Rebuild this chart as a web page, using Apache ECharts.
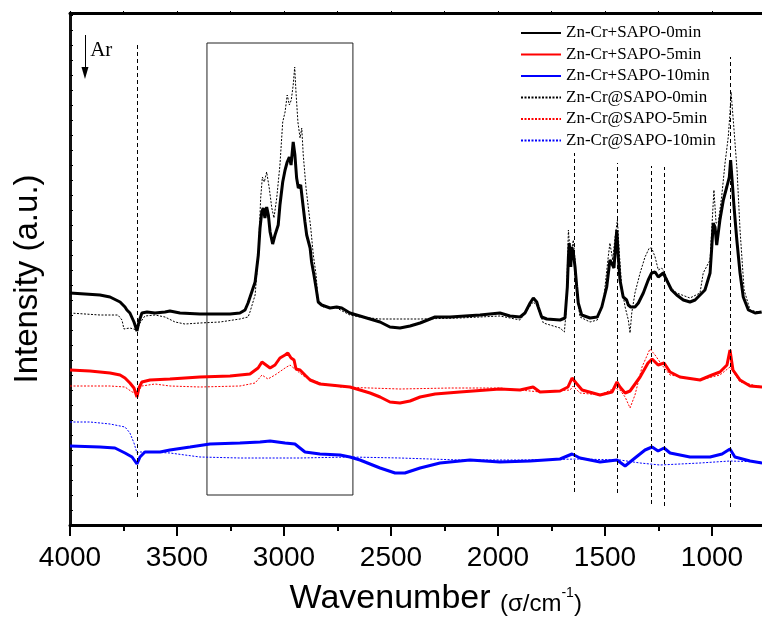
<!DOCTYPE html>
<html>
<head>
<meta charset="utf-8">
<script src="https://cdn.jsdelivr.net/npm/echarts@6/dist/echarts.min.js"></script>
<style>html,body{margin:0;padding:0;background:#fff}#c{width:762px;height:621px}</style>
</head>
<body>
<div id="c"></div>
<script>
// ---- data: [wavenumber (cm-1), intensity (a.u.)] ----
var xTicks = [4000, 3500, 3000, 2500, 2000, 1500, 1000];
var seriesNames = ['Zn-Cr+SAPO-0min','Zn-Cr+SAPO-5min','Zn-Cr+SAPO-10min','Zn-Cr@SAPO-0min','Zn-Cr@SAPO-5min','Zn-Cr@SAPO-10min'];

var blackSolid = [[4000,232],[3860,230],[3813,228],[3766,223],[3743,218],[3734,215],[3720,212],[3701,203],[3687,194],[3678,203],[3664,212],[3640,213],[3603,212],[3556,213],[3533,214],[3486,212],[3393,211],[3252,211],[3206,212],[3182,215],[3168,222],[3159,223],[3135,243],[3120,270],[3112,297],[3104,313],[3097,317],[3089,307],[3081,318],[3073,310],[3065,293],[3053,281],[3042,290],[3027,300],[3019,320],[3006,343],[2995,355],[2985,363],[2975,368],[2967,360],[2957,383],[2949,370],[2941,347],[2933,337],[2922,340],[2913,323],[2902,303],[2894,290],[2878,277],[2871,263],[2860,250],[2850,237],[2840,223],[2824,220],[2785,217],[2754,218],[2730,217],[2692,212],[2645,209],[2551,203],[2505,198],[2458,197],[2411,199],[2364,202],[2294,208],[2224,208],[2084,210],[1991,212],[1944,209],[1897,208],[1874,212],[1850,222],[1835,227],[1819,223],[1812,218],[1796,208],[1772,206],[1710,205],[1687,207],[1676,238],[1671,268],[1667,282],[1660,258],[1656,278],[1648,272],[1640,258],[1632,238],[1625,222],[1609,210],[1570,207],[1536,208],[1515,218],[1492,238],[1477,265],[1469,262],[1458,257],[1452,275],[1445,295],[1438,268],[1430,245],[1415,228],[1406,227],[1399,225],[1391,220],[1380,218],[1360,218],[1344,222],[1321,232],[1298,245],[1282,252],[1266,253],[1251,248],[1228,252],[1212,245],[1189,235],[1165,230],[1134,225],[1103,223],[1079,225],[1056,230],[1033,235],[1009,252],[1001,278],[994,302],[986,298],[978,280],[971,282],[963,305],[947,325],[931,338],[919,348],[913,365],[906,345],[897,318],[884,285],[869,252],[854,228],[830,215],[799,212],[768,213]];

var redSolid = [[4000,155],[3907,154],[3813,152],[3766,150],[3743,147],[3720,142],[3701,137],[3687,128],[3678,137],[3664,143],[3626,145],[3533,146],[3393,148],[3252,149],[3159,151],[3121,157],[3103,163],[3084,160],[3065,157],[3042,160],[3019,167],[2995,170],[2982,172],[2967,167],[2953,165],[2944,156],[2925,155],[2902,150],[2878,145],[2832,141],[2785,140],[2738,139],[2692,138],[2645,135],[2598,132],[2551,128],[2505,123],[2458,122],[2411,124],[2364,128],[2294,131],[2178,133],[1991,136],[1897,135],[1836,138],[1804,133],[1710,134],[1673,138],[1654,147],[1635,142],[1607,135],[1523,130],[1467,133],[1444,143],[1430,138],[1406,132],[1383,134],[1336,148],[1299,162],[1280,166],[1252,160],[1224,162],[1196,153],[1150,148],[1056,145],[1000,150],[963,153],[930,160],[916,175],[902,155],[869,145],[822,139],[766,138]];

var blueSolid = [[4000,79],[3860,78],[3790,77],[3743,72],[3710,68],[3687,61],[3673,68],[3650,73],[3579,73],[3533,75],[3439,78],[3346,81],[3206,82],[3112,83],[3065,84],[2995,82],[2949,81],[2902,73],[2832,71],[2738,70],[2692,68],[2645,65],[2551,57],[2481,52],[2435,52],[2364,57],[2271,62],[2131,65],[1991,63],[1850,64],[1710,66],[1654,71],[1617,67],[1523,63],[1444,65],[1406,59],[1360,67],[1313,75],[1280,78],[1252,74],[1224,77],[1196,72],[1103,68],[1009,68],[953,71],[916,76],[893,68],[822,64],[766,62]];

var blackDotted = [[4000,212],[3860,210],[3776,210],[3757,205],[3748,196],[3720,197],[3687,195],[3673,202],[3650,209],[3603,210],[3556,208],[3509,203],[3463,201],[3393,202],[3299,203],[3206,206],[3168,208],[3159,213],[3135,230],[3120,270],[3109,327],[3101,348],[3092,343],[3081,353],[3069,337],[3057,317],[3047,307],[3034,327],[3019,360],[3006,403],[2995,413],[2985,430],[2975,420],[2966,425],[2957,440],[2950,458],[2944,433],[2935,403],[2925,387],[2917,397],[2910,370],[2897,337],[2886,317],[2875,297],[2863,270],[2850,250],[2840,223],[2816,218],[2754,217],[2692,210],[2645,208],[2551,206],[2364,206],[2178,207],[1991,209],[1897,205],[1860,216],[1836,223],[1819,220],[1788,202],[1710,197],[1690,193],[1682,212],[1671,295],[1663,272],[1656,275],[1648,285],[1640,265],[1632,232],[1617,208],[1570,203],[1536,205],[1508,222],[1485,268],[1477,282],[1464,265],[1453,288],[1442,305],[1433,272],[1422,238],[1406,218],[1391,205],[1383,192],[1375,212],[1360,232],[1336,252],[1313,268],[1293,277],[1282,277],[1266,268],[1251,255],[1235,257],[1220,252],[1196,238],[1165,232],[1103,227],[1056,232],[1041,252],[1009,265],[991,335],[981,302],[971,302],[955,328],[939,362],[924,388],[916,412],[911,433],[897,395],[883,355],[869,295],[850,235],[822,215],[766,212]];

var redDotted = [[4000,139],[3813,139],[3743,138],[3710,133],[3687,132],[3664,139],[3603,141],[3533,139],[3393,138],[3206,139],[3135,142],[3103,150],[3075,146],[3042,150],[2995,157],[2972,160],[2944,155],[2902,148],[2832,142],[2738,138],[2458,136],[2224,137],[1991,137],[1804,133],[1663,135],[1649,139],[1617,132],[1523,130],[1453,137],[1430,135],[1406,128],[1383,117],[1360,130],[1327,158],[1290,176],[1266,170],[1234,160],[1196,150],[1056,145],[963,150],[916,158],[869,143],[766,138]];

var blueDotted = [[4000,103],[3907,103],[3813,101],[3743,98],[3720,92],[3701,82],[3687,72],[3673,73],[3626,73],[3533,72],[3393,68],[3206,67],[2925,67],[2692,68],[2458,67],[2178,65],[1897,65],[1617,66],[1430,65],[1336,62],[1243,60],[1056,62],[916,64],[766,63]];

// reference lines: [wavenumber, yStart, yEnd]
var refLines = [[3687,28,480],[1643,33,372],[1441,32,362],[1282,21,359],[1224,19,358],[916,18,468]];
// highlighted region box: [wnFrom, wnTo, yFrom, yTo]
var regionBox = [3360, 2678, 30, 482];
// Ar arrow: [wavenumber, yFrom, yTo]
var arArrow = [3930, 490, 452];

var chart = echarts.init(document.getElementById('c'), null, {renderer:'canvas'});
var serif = "'Liberation Serif','Times New Roman',serif";
var sans = "'Liberation Sans',Arial,sans-serif";

function solid(name, data, color){
  return {name:name, type:'line', data:data, symbol:'none', showSymbol:false, z:3,
    lineStyle:{color:color, width:3}, itemStyle:{color:color}};
}
function dotted(name, data, color){
  return {name:name, type:'line', data:data, symbol:'none', showSymbol:false, z:2,
    lineStyle:{color:color, width:1, type:[2,1.5]}, itemStyle:{color:color}};
}

var s0 = solid(seriesNames[0], blackSolid, '#000000');
s0.markLine = {silent:true, symbol:['none','none'], label:{show:false},
  lineStyle:{color:'#000', width:1, type:[4,3]},
  data: refLines.map(function(r){return [{coord:[r[0],r[1]]},{coord:[r[0],r[2]]}];}).concat([
    [{coord:[arArrow[0],arArrow[1]], symbol:'none', lineStyle:{type:'solid', width:1}},
     {coord:[arArrow[0],arArrow[2]], symbol:'triangle', symbolSize:[7,12], symbolRotate:180, lineStyle:{type:'solid', width:1}}]
  ])};
s0.markArea = {silent:true, itemStyle:{color:'rgba(0,0,0,0)', borderColor:'#222', borderWidth:1},
  data:[[{coord:[regionBox[0],regionBox[2]]},{coord:[regionBox[1],regionBox[3]]}]]};
s0.markPoint = {silent:true, symbol:'circle', symbolSize:0,
  data:[{coord:[3915,475], value:'Ar'}],
  label:{show:true, formatter:'Ar', position:'right', distance:2, color:'#000', fontFamily:serif, fontSize:21}};

var option = {
  animation:false,
  backgroundColor:'#fff',
  grid:{left:70, top:13, right:-3.5, bottom:96, outerBoundsMode:'none', containLabel:false},
  legend:{
    data:seriesNames, orient:'vertical', left:520, top:24.5, padding:0,
    itemWidth:40, itemHeight:14, itemGap:4.5,
    itemStyle:{color:'rgba(0,0,0,0)', borderColor:'rgba(0,0,0,0)', borderWidth:0, opacity:0},
    textStyle:{fontFamily:serif, fontSize:17, color:'#000'}
  },
  xAxis:[
    {type:'value', position:'bottom', inverse:true, min:750, max:4000, interval:250,
     axisLine:{show:true, onZero:false, lineStyle:{color:'#000', width:3}},
     axisTick:{show:true, inside:false, length:6, lineStyle:{color:'#000', width:2}},
     axisLabel:{show:true, margin:19, color:'#000', fontFamily:sans, fontSize:28,
       formatter:function(v){return xTicks.indexOf(v) >= 0 ? String(v) : '';}},
     splitLine:{show:false},
     name:'{a|Wavenumber }{b|(σ/cm}{c|-1}{b|)}', nameLocation:'middle', nameGap:55,
     nameTextStyle:{padding:[0,0,0,36], color:'#000',
       rich:{a:{fontFamily:sans, fontSize:34, lineHeight:36, verticalAlign:'bottom', color:'#000'},
             b:{fontFamily:sans, fontSize:24, lineHeight:36, verticalAlign:'bottom', color:'#000'},
             c:{fontFamily:sans, fontSize:14, lineHeight:36, verticalAlign:'top', color:'#000', padding:[6,0,0,0]}}}
    },
    {type:'value', position:'bottom', inverse:true, min:750, max:4000, interval:250, offset:0,
     axisLine:{show:false}, axisLabel:{show:false}, splitLine:{show:false},
     axisTick:{show:true, length:11, customValues:xTicks, lineStyle:{color:'#000', width:2}}
    },
    {type:'value', position:'top', inverse:true, min:750, max:4000, interval:250,
     axisLine:{show:true, onZero:false, lineStyle:{color:'#000', width:3}},
     axisTick:{show:true, inside:false, length:2, lineStyle:{color:'#000', width:1}},
     axisLabel:{show:false}, splitLine:{show:false}
    }
  ],
  yAxis:{type:'value', min:0, max:512, interval:15,
    axisLine:{show:true, onZero:false, lineStyle:{color:'#111', width:3}},
    axisTick:{show:true, inside:true, length:3, lineStyle:{color:'#000', width:1}},
    axisLabel:{show:false}, splitLine:{show:false},
    name:'Intensity (a.u.)', nameLocation:'middle', nameGap:26, nameRotate:90,
    nameTextStyle:{fontFamily:sans, fontSize:33, color:'#000', padding:[0,20,0,0]}
  },
  series:[
    s0,
    solid(seriesNames[1], redSolid, '#ff0000'),
    solid(seriesNames[2], blueSolid, '#0000ff'),
    dotted(seriesNames[3], blackDotted, '#000000'),
    dotted(seriesNames[4], redDotted, '#ff0000'),
    dotted(seriesNames[5], blueDotted, '#0000ff')
  ]
};
chart.setOption(option);
</script>
</body>
</html>
